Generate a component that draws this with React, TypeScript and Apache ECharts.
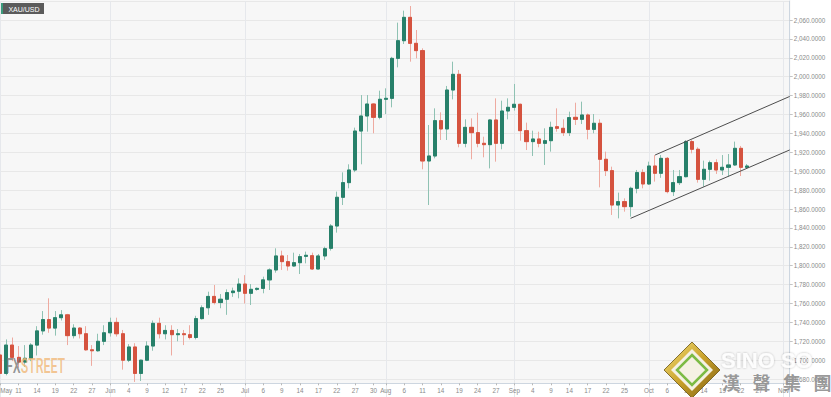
import React, { useEffect, useRef } from "react";
import * as echarts from "echarts";

// ---------- DATA ----------
const tradingDays: [string, number[]][] = [
  ["05", [6, 7, 8, 11, 12, 13, 14, 15, 18, 19, 20, 21, 22, 25, 26, 27, 28, 29]],
  ["06", [1, 2, 3, 4, 5, 8, 9, 10, 11, 12, 15, 16, 17, 18, 19, 22, 23, 24, 25, 26, 29, 30]],
  ["07", [1, 2, 3, 6, 7, 8, 9, 10, 13, 14, 15, 16, 17, 20, 21, 22, 23, 24, 27, 28, 29, 30, 31]],
  ["08", [3, 4, 5, 6, 7, 10, 11, 12, 13, 14, 17, 18, 19, 20, 21, 24, 25, 26, 27, 28, 31]],
  ["09", [1, 2, 3, 4, 7, 8, 9, 10, 11, 14, 15, 16, 17, 18, 21, 22, 23, 24, 25, 28, 29, 30]],
  ["10", [1, 2, 5, 6, 7, 8, 9, 12, 13, 14, 15, 16, 19, 20, 21, 22, 23, 26, 27, 28, 29, 30]],
  ["11", [2, 3]],
];

const tickLabels: [string, string][] = [
  ["2020-05-06", "May"], ["2020-05-11", "11"], ["2020-05-14", "14"], ["2020-05-19", "19"], ["2020-05-22", "22"], ["2020-05-27", "27"],
  ["2020-06-01", "Jun"], ["2020-06-04", "4"], ["2020-06-09", "9"], ["2020-06-12", "12"], ["2020-06-17", "17"], ["2020-06-22", "22"], ["2020-06-25", "25"],
  ["2020-07-01", "Jul"], ["2020-07-06", "6"], ["2020-07-09", "9"], ["2020-07-14", "14"], ["2020-07-17", "17"], ["2020-07-22", "22"], ["2020-07-27", "27"], ["2020-07-30", "30"],
  ["2020-08-03", "Aug"], ["2020-08-06", "6"], ["2020-08-11", "11"], ["2020-08-14", "14"], ["2020-08-19", "19"], ["2020-08-24", "24"], ["2020-08-27", "27"],
  ["2020-09-01", "Sep"], ["2020-09-04", "4"], ["2020-09-09", "9"], ["2020-09-14", "14"], ["2020-09-17", "17"], ["2020-09-22", "22"], ["2020-09-25", "25"],
  ["2020-10-01", "Oct"], ["2020-10-06", "6"], ["2020-10-09", "9"], ["2020-10-14", "14"], ["2020-10-19", "19"], ["2020-10-22", "22"], ["2020-10-27", "27"],
  ["2020-11-02", "Nov"],
];

const monthStarts: string[] = ["2020-05-06", "2020-06-01", "2020-07-01", "2020-08-03", "2020-09-01", "2020-10-01", "2020-11-02"];

// [open, close, low, high] per trading day from 2020-05-06
const candles: number[][] = [
  [1705.5, 1686, 1683, 1709], [1686, 1716, 1684, 1722], [1716, 1703, 1699, 1724], [1703, 1698, 1692, 1715],
  [1698, 1702, 1693, 1716], [1702, 1716, 1699, 1718], [1716, 1731, 1705, 1736], [1731, 1743, 1727, 1752],
  [1743, 1734, 1729, 1765.5], [1734, 1745, 1726, 1752], [1745, 1748, 1742, 1753], [1748, 1726, 1716, 1749],
  [1726, 1734, 1723, 1738], [1734, 1728, 1723, 1735], [1728, 1711, 1710, 1736], [1711, 1710, 1694, 1716],
  [1710, 1720, 1709, 1728], [1720, 1729, 1716, 1737], [1729, 1740, 1725, 1745], [1740, 1728, 1725, 1745],
  [1728, 1700, 1690, 1732], [1700, 1714, 1698, 1717], [1714, 1686, 1677, 1718], [1686, 1700, 1678, 1700.5],
  [1700, 1715, 1699, 1720], [1715, 1739, 1710, 1742], [1739, 1728, 1723, 1745], [1728, 1731.5, 1722, 1737],
  [1731.5, 1727, 1705, 1737], [1727, 1728, 1720, 1733], [1728, 1727, 1716, 1732], [1727, 1724, 1722, 1737],
  [1724, 1744, 1722, 1747], [1744, 1755.5, 1743, 1758], [1755.5, 1767.5, 1748, 1772.5], [1767.5, 1761, 1759, 1779.6],
  [1761, 1764.5, 1755, 1770], [1764.5, 1771.5, 1748, 1775], [1771.5, 1773.2, 1767, 1776.8], [1773, 1780.6, 1765.5, 1786.6],
  [1780.6, 1770.8, 1760, 1790], [1770.8, 1775, 1758.4, 1780.6], [1775, 1776, 1773.6, 1777], [1776, 1785, 1770.8, 1788.4],
  [1785, 1795.5, 1774.3, 1797.2], [1795.5, 1810.3, 1792.6, 1818.4], [1810.3, 1804.3, 1795.5, 1815.9], [1804.3, 1799.7, 1794.8, 1811.3],
  [1799.7, 1803.2, 1799, 1813.8], [1803.2, 1809.6, 1791.2, 1812.4], [1809.9, 1811, 1802.5, 1814.9], [1810.6, 1796.5, 1795.5, 1813.8],
  [1796.5, 1810.3, 1796.2, 1812.4], [1810.3, 1818, 1806, 1820.1], [1818.4, 1842, 1816, 1844], [1842, 1872.4, 1835, 1878.4],
  [1872.4, 1887.9, 1864.2, 1898.8], [1887.9, 1901.3, 1881.9, 1907.3], [1901.3, 1942.5, 1899, 1946.1], [1942.5, 1958.4, 1907.3, 1980.6],
  [1958.4, 1971.1, 1941.8, 1980.6], [1971.1, 1957, 1940.1, 1972], [1957, 1976.1, 1954.9, 1985.2], [1976.1, 1977.1, 1960.5, 1987.7],
  [1977.1, 2019.4, 1967.6, 2021], [2019.4, 2038.1, 2009.9, 2057.2], [2038.1, 2062.8, 2034.6, 2069.9], [2062.8, 2035.3, 2015.9, 2074.8],
  [2035.3, 2027.6, 2019.4, 2049.4], [2027.6, 1910.8, 1902, 2030], [1910.8, 1916.1, 1864.2, 1948.9], [1916.1, 1953.5, 1913.6, 1966.5],
  [1953.5, 1944.7, 1933, 1962.3], [1944.7, 1985.9, 1933, 1990.2], [1985.9, 2002.5, 1976, 2015.9], [2002.5, 1929.5, 1925.3, 2007.1],
  [1929.5, 1946.4, 1925.3, 1954.9], [1946.4, 1940.8, 1912.6, 1955.9], [1940.8, 1929.5, 1925.3, 1961.9], [1929.5, 1928.1, 1914.7, 1936.5],
  [1928.1, 1954.2, 1903, 1955], [1954.2, 1929.5, 1910.1, 1977.1], [1929.5, 1963.7, 1923.2, 1974.6], [1963.7, 1967.6, 1954.9, 1977.1],
  [1967.6, 1970.8, 1964.1, 1992.3], [1970.8, 1942.9, 1932.3, 1971.5], [1942.9, 1931.3, 1922.4, 1951.4], [1931.3, 1934.1, 1916.1, 1942.9],
  [1934.1, 1929.5, 1925.3, 1941.8], [1929.5, 1932.3, 1906.6, 1945.4], [1932.3, 1946.4, 1920.7, 1952.4], [1947.1, 1945.4, 1941.8, 1966.5],
  [1945.4, 1940.8, 1937.2, 1954.9], [1940.8, 1956.7, 1937.2, 1963], [1957, 1954.9, 1948.9, 1972.5], [1954.9, 1959.5, 1949.9, 1973.6],
  [1959.5, 1944.3, 1933.7, 1961], [1944.3, 1950.7, 1940.1, 1960.5], [1950.7, 1912.6, 1882.9, 1954.9], [1912.6, 1900.6, 1894.9, 1920.7],
  [1900.6, 1864.2, 1853.7, 1904.8], [1864.2, 1867.8, 1850.1, 1877.3], [1867.8, 1862.5, 1857.2, 1871.3], [1862.5, 1881.9, 1851.9, 1883.6],
  [1881.9, 1898.5, 1876.6, 1901.3], [1898.5, 1886.5, 1881.9, 1902], [1886.5, 1905.5, 1885.4, 1910.1], [1905.5, 1897.8, 1889, 1917.1],
  [1897.8, 1913.6, 1893, 1917.1], [1913.6, 1878.4, 1876.6, 1915], [1878.4, 1887.9, 1873.8, 1901.3], [1887.9, 1894.2, 1885.4, 1901.3],
  [1894.2, 1931.3, 1893.5, 1933], [1931.3, 1923.2, 1918.9, 1933], [1923.2, 1891.4, 1887.9, 1925.3], [1891.4, 1902, 1883.6, 1911.2],
  [1902, 1909, 1890, 1911.2], [1909, 1901.3, 1897.1, 1912.6], [1901.3, 1904.1, 1896, 1917.1], [1904.1, 1906.6, 1894.2, 1918.2],
  [1906.6, 1924.2, 1905.5, 1931.3], [1924.2, 1904.1, 1894.9, 1926.7], [1904.1, 1905.5, 1903, 1907.6],
];

// channel lines: [category index, price]
const upperChannel: number[][] = [[107, 1917.1], [129, 1979.1]];
const lowerChannel: number[][] = [[103, 1850.1], [129, 1922.5]];

const yTicks = { min: 1660, max: 2080, step: 20 };

// ---------- BUILD ----------
const dates: string[] = [];
tradingDays.forEach(([m, days]) => days.forEach((d) => dates.push(`2020-${m}-${String(d).padStart(2, "0")}`)));
const labelMap = new Map(tickLabels);
const monthSet = new Set(monthStarts);

const GREEN = "#27806a";
const RED = "#d5533f";
const GREEN_W = "#8fc2b3";
const RED_W = "#eeaaa0";

const fmtPrice = (v: number) =>
  v.toLocaleString("en-US", { minimumFractionDigits: 4, maximumFractionDigits: 4 });

const option: any = {
  animation: false,
  backgroundColor: "#ffffff",
  textStyle: { fontFamily: "Liberation Sans, Arial, sans-serif" },
  grid: { left: 0.2, right: 41.3, top: 1.1, bottom: -1, containLabel: false, outerBoundsMode: "none" },
  xAxis: {
    type: "category",
    data: dates,
    boundaryGap: false,
    offset: -14.7,
    axisLine: { show: true, lineStyle: { color: "#cdd6e0", width: 1 } },
    axisTick: { show: true, length: 2, interval: (i: number, v: string) => labelMap.has(v), lineStyle: { color: "#b8b8b8" } },
    axisLabel: {
      interval: (i: number, v: string) => labelMap.has(v),
      formatter: (v: string) => labelMap.get(v) || "",
      fontSize: 6.3,
      color: "#8a8a8a",
      margin: 4,
      alignMinLabel: "left",
      hideOverlap: false,
    },
    splitLine: { show: true, interval: (i: number, v: string) => monthSet.has(v), lineStyle: { color: "#e6e8ec", width: 1 } },
  },
  yAxis: {
    type: "value",
    position: "right",
    min: yTicks.min,
    max: yTicks.max,
    interval: yTicks.step,
    axisLine: { show: true, lineStyle: { color: "#cdd6e0", width: 1 } },
    axisTick: { show: true, length: 3, lineStyle: { color: "#c4c4c4" } },
    axisLabel: {
      fontSize: 6.3,
      color: "#8a8a8a",
      margin: 4,
      showMinLabel: false,
      showMaxLabel: false,
      formatter: (v: number) => fmtPrice(v),
    },
    splitLine: { show: true, lineStyle: { color: "#e8e8e8", width: 1 } },
  },
  series: [
    {
      type: "candlestick",
      name: "wick",
      data: candles,
      barWidth: 3.6,
      silent: true,
      itemStyle: { color: GREEN_W, color0: RED_W, borderColor: GREEN_W, borderColor0: RED_W, borderWidth: 1 },
    },
    {
      type: "candlestick",
      name: "body",
      data: candles.map(([o, c]) => [o, c, Math.min(o, c), Math.max(o, c)]),
      barWidth: 3.6,
      silent: true,
      itemStyle: { color: GREEN, color0: RED, borderColor: GREEN, borderColor0: RED, borderWidth: 1 },
    },
    {
      type: "line",
      data: upperChannel,
      showSymbol: false,
      symbol: "none",
      silent: true,
      lineStyle: { color: "#4d4d4d", width: 1 },
      z: 5,
    },
    {
      type: "line",
      data: lowerChannel,
      showSymbol: false,
      symbol: "none",
      silent: true,
      lineStyle: { color: "#4d4d4d", width: 1 },
      z: 5,
    },
  ],
  graphic: [
    { type: "rect", z: -10, silent: true, shape: { x: 0, y: 0, width: 790.5, height: 383.3 }, style: { fill: "#f7f7f7" } },
    // symbol tag
    { type: "rect", z: 20, silent: true, shape: { x: 1, y: 3, width: 43, height: 11 }, style: { fill: "#5b5b5b" } },
    { type: "rect", z: 21, silent: true, shape: { x: 1, y: 3, width: 2, height: 11 }, style: { fill: "#3b9b7c" } },
    {
      type: "text", z: 21, silent: true, x: 24, y: 9,
      style: { text: "XAU/USD", fill: "#ffffff", fontSize: 7, fontFamily: "Liberation Sans, Arial", align: "center", verticalAlign: "middle" },
    },
    // FXStreet watermark
    {
      type: "text", z: 20, silent: true, x: 6, y: 366, scaleX: 0.62,
      style: {
        text: "{a|FX}{b|STREET}",
        verticalAlign: "middle",
        align: "left",
        opacity: 0.8,
        rich: {
          a: { fontSize: 20, fontFamily: "Roboto, Liberation Sans", fontWeight: 500, fill: "#7a7a7a" },
          b: { fontSize: 20, fontFamily: "Roboto, Liberation Sans", fontWeight: 500, fill: "#f1b878" },
        },
      },
    },
    // Sino Sound logo
    {
      type: "polygon", z: 20, silent: true,
      shape: { points: [[692, 342], [720, 370], [692, 398], [664, 370]] },
      style: {
        fill: new echarts.graphic.LinearGradient(0, 0, 1, 1, [
          { offset: 0, color: "#f4e07a" },
          { offset: 0.5, color: "#c9a12a" },
          { offset: 1, color: "#7d5e12" },
        ]),
        stroke: "#6b5412",
        lineWidth: 0.8,
      },
    },
    {
      type: "polygon", z: 21, silent: true,
      shape: { points: [[692, 349], [713, 370], [692, 391], [671, 370]] },
      style: { fill: "#f5f1e4" },
    },
    {
      type: "polygon", z: 22, silent: true,
      shape: { points: [[692, 355], [707, 370], [692, 385], [677, 370]] },
      style: { fill: "none", stroke: "#7cbb45", lineWidth: 2.5 },
    },
    {
      type: "text", z: 20, silent: true, x: 721, y: 360,
      style: {
        text: "SINO SO", fontSize: 22, fontWeight: "bold", fontFamily: "Liberation Sans, Arial",
        fill: "rgba(255,255,255,0.92)", verticalAlign: "middle",
        textShadowColor: "rgba(0,0,0,0.3)", textShadowBlur: 2,
      },
    },
    ...["漢", "聲", "集", "團"].map((ch, k) => ({
      type: "text", z: 20, silent: true, x: 731 + k * 30.5, y: 382,
      style: {
        text: ch, fontSize: 18, fontWeight: "bold", fontFamily: "Noto Sans CJK TC",
        fill: "#8c8c8c", align: "center", verticalAlign: "middle", opacity: 0.9,
      },
    })),
  ],
};

export default function App() {
  const ref = useRef<HTMLDivElement>(null);
  useEffect(() => {
    document.body.style.margin = "0";
    const chart = echarts.init(ref.current!, null, { renderer: "svg" });
    chart.setOption(option);
    return () => chart.dispose();
  }, []);
  return (
    <div
      ref={ref}
      style={{ position: "fixed", left: 0, top: 0, width: 831, height: 397, background: "#fff", overflow: "hidden" }}
    />
  );
}
